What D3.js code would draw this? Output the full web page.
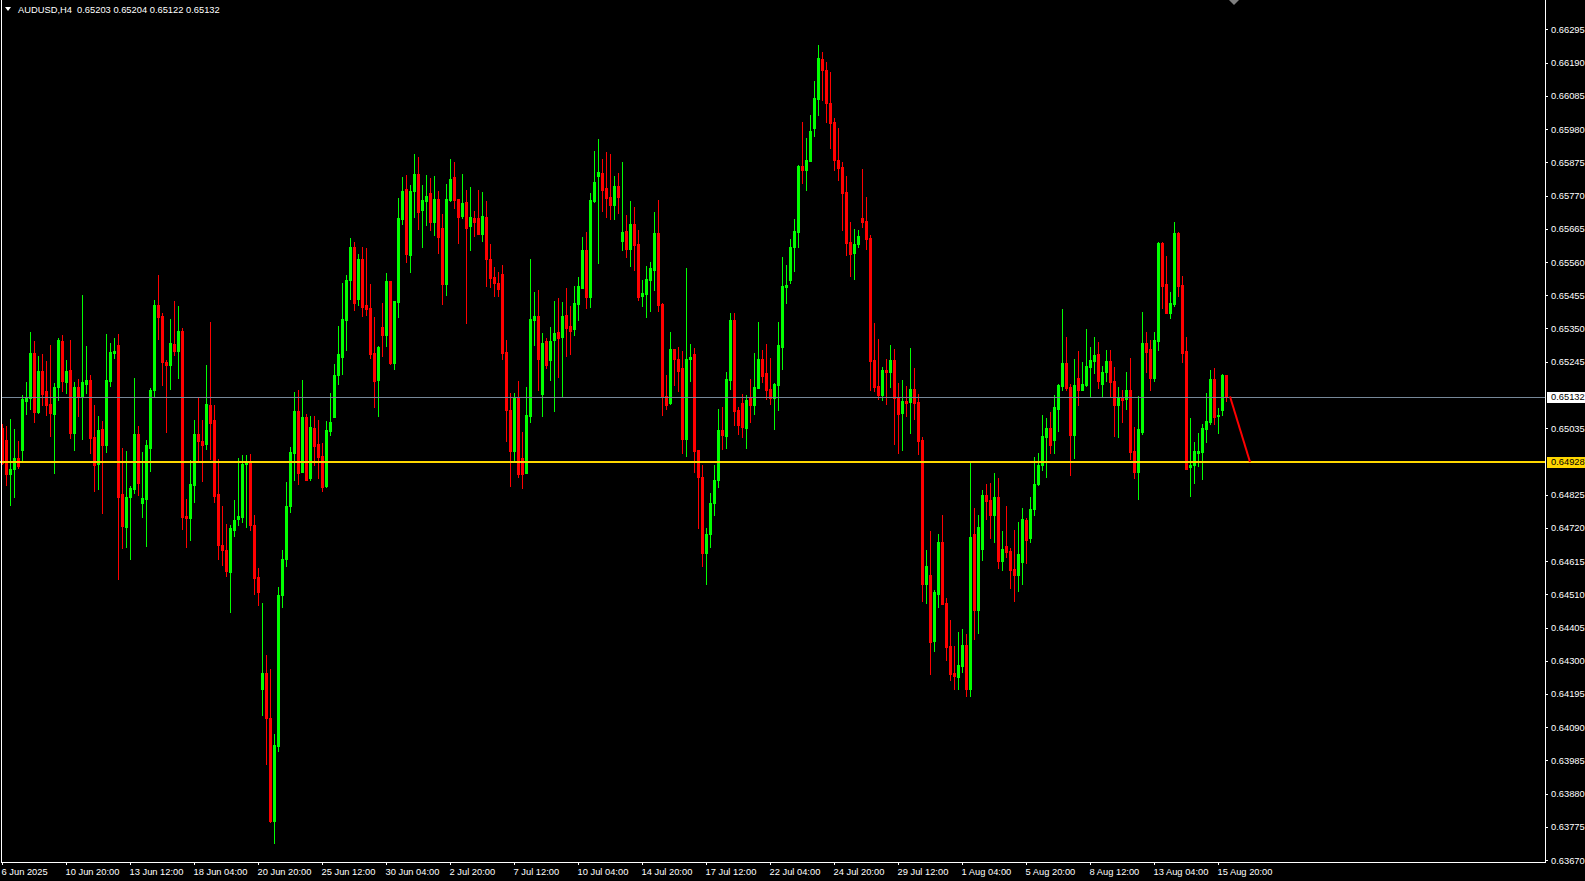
<!DOCTYPE html>
<html><head><meta charset="utf-8">
<script src="https://cdn.jsdelivr.net/npm/d3@7"></script>
<style>
html,body{margin:0;padding:0;background:#000;overflow:hidden}
svg{display:block}
text{font-family:"Liberation Sans",Arial,sans-serif;font-size:9.33px;fill:#fff}
</style></head><body>
<svg id="c" width="1585" height="881"></svg>
<script>
// ---------- data ----------
const symbolTitle = "AUDUSD,H4";
const headerValues = ["0.65203", "0.65204", "0.65122", "0.65132"];

const opens = [
0.65035,0.64997,0.64889,0.64905,0.64940,0.64965,0.65120,0.65130,0.65272,0.65085,
0.65215,0.65152,0.65110,0.65079,0.65164,0.65310,0.65180,0.65218,0.65019,0.65164,
0.65133,0.65174,0.65187,0.65006,0.64921,0.65031,0.64981,0.65183,0.65272,0.65297,
0.64826,0.64724,0.64816,0.64842,0.65016,0.64797,0.64812,0.64972,0.65154,0.65425,
0.65389,0.65243,0.65233,0.65300,0.65279,0.65343,0.64758,0.64751,0.64854,0.65015,
0.64994,0.64986,0.65108,0.65061,0.64826,0.64665,0.64651,0.64580,0.64712,0.64747,
0.64755,0.64922,0.64929,0.64730,0.64565,0.64212,0.64262,0.64120,0.63795,0.64030,
0.64508,0.64620,0.64790,0.64957,0.65090,0.64897,0.65071,0.64878,0.65037,0.64986,
0.64948,0.64853,0.65027,0.65071,0.65204,0.65261,0.65378,0.65502,0.65609,0.65442,
0.65571,0.65423,0.65416,0.65271,0.65188,0.65356,0.65328,0.65499,0.65242,0.65435,
0.65695,0.65790,0.65581,0.65783,0.65837,0.65723,0.65752,0.65777,0.65688,0.65758,
0.65669,0.65489,0.65755,0.65828,0.65758,0.65704,0.65749,0.65673,0.65698,0.65698,
0.65650,0.65701,0.65571,0.65514,0.65495,0.65521,0.65277,0.65093,0.64964,0.65134,
0.64942,0.64894,0.65074,0.65378,0.65388,0.65144,0.65309,0.65249,0.65312,0.65340,
0.65322,0.65391,0.65357,0.65347,0.65426,0.65477,0.65597,0.65448,0.65752,0.65831,
0.65841,0.65793,0.65765,0.65740,0.65800,0.65626,0.65657,0.65600,0.65679,0.65616,
0.65452,0.65458,0.65502,0.65534,0.65651,0.65426,0.65138,0.65116,0.65284,0.65255,
0.65224,0.65002,0.65252,0.65268,0.64967,0.64882,0.64640,0.64700,0.64800,0.64870,
0.65029,0.65011,0.65188,0.65378,0.65093,0.65115,0.65036,0.65131,0.65109,0.65162,
0.65254,0.65210,0.65159,0.65131,0.65172,0.65292,0.65482,0.65504,0.65606,0.65656,
0.65865,0.65852,0.65878,0.65982,0.66074,0.66201,0.66166,0.66064,0.66001,0.65881,
0.65860,0.65781,0.65623,0.65588,0.65617,0.65700,0.65689,0.65636,0.65250,0.65168,
0.65141,0.65218,0.65212,0.65250,0.65133,0.65082,0.65120,0.65117,0.65158,0.65117,
0.64997,0.64543,0.64571,0.64362,0.64511,0.64675,0.64483,0.64347,0.64261,0.64249,
0.64283,0.64350,0.64211,0.64700,0.64461,0.64654,0.64825,0.64809,0.64759,0.64816,
0.64616,0.64664,0.64648,0.64591,0.64572,0.64613,0.64746,0.64689,0.64778,0.64857,
0.64917,0.65006,0.65037,0.64996,0.65094,0.65167,0.65240,0.65164,0.65012,0.65195,
0.65157,0.65170,0.65227,0.65246,0.65268,0.65176,0.65211,0.65246,0.65183,0.65107,
0.65135,0.65126,0.65157,0.64964,0.64895,0.65024,0.65303,0.65284,0.65192,0.65309,
0.65620,0.65490,0.65398,0.65427,0.65651,0.65487,0.65278,0.64911,0.64920,0.64958,
0.64961,0.65031,0.65056,0.65189,0.65072,0.65091,0.65203];

const highs = [
0.65047,0.65041,0.65063,0.65031,0.64993,0.65139,0.65180,0.65338,0.65310,0.65262,
0.65269,0.65247,0.65297,0.65177,0.65320,0.65329,0.65250,0.65313,0.65180,0.65190,
0.65455,0.65294,0.65202,0.65107,0.65073,0.65057,0.65332,0.65304,0.65320,0.65332,
0.64971,0.64962,0.64851,0.65193,0.65041,0.64961,0.64997,0.65161,0.65439,0.65518,
0.65400,0.65250,0.65379,0.65436,0.65422,0.65350,0.64812,0.64933,0.65061,0.65133,
0.65061,0.65236,0.65372,0.65108,0.64936,0.64790,0.64733,0.64730,0.64808,0.64940,
0.64951,0.64951,0.64954,0.64762,0.64594,0.64483,0.64319,0.64273,0.64070,0.64533,
0.64650,0.64865,0.64976,0.65150,0.65157,0.65188,0.65081,0.65074,0.65074,0.65062,
0.64989,0.65059,0.65147,0.65239,0.65359,0.65495,0.65518,0.65635,0.65622,0.65584,
0.65606,0.65603,0.65492,0.65385,0.65296,0.65429,0.65524,0.65499,0.65438,0.65761,
0.65828,0.65834,0.65802,0.65901,0.65891,0.65802,0.65834,0.65825,0.65831,0.65783,
0.65711,0.65806,0.65885,0.65875,0.65758,0.65837,0.65787,0.65796,0.65720,0.65787,
0.65780,0.65752,0.65616,0.65543,0.65530,0.65552,0.65315,0.65147,0.65147,0.65185,
0.65024,0.65166,0.65571,0.65464,0.65473,0.65337,0.65321,0.65356,0.65438,0.65445,
0.65433,0.65477,0.65420,0.65483,0.65512,0.65638,0.65654,0.65778,0.65911,0.65949,
0.65885,0.65907,0.65901,0.65831,0.65841,0.65876,0.65708,0.65752,0.65733,0.65660,
0.65502,0.65547,0.65559,0.65717,0.65755,0.65429,0.65202,0.65338,0.65284,0.65290,
0.65278,0.65540,0.65300,0.65287,0.64967,0.64920,0.64720,0.64830,0.64919,0.65096,
0.65102,0.65213,0.65400,0.65400,0.65102,0.65143,0.65140,0.65191,0.65273,0.65371,
0.65283,0.65302,0.65257,0.65178,0.65371,0.65577,0.65549,0.65634,0.65697,0.65868,
0.66004,0.65951,0.66026,0.66131,0.66245,0.66223,0.66191,0.66159,0.66014,0.65982,
0.65875,0.65832,0.65685,0.65664,0.65661,0.65854,0.65766,0.65645,0.65366,0.65316,
0.65228,0.65253,0.65298,0.65285,0.65177,0.65187,0.65168,0.65288,0.65225,0.65144,
0.65007,0.64650,0.64710,0.64522,0.64700,0.64760,0.64497,0.64428,0.64347,0.64390,
0.64400,0.64385,0.64926,0.64783,0.64760,0.64838,0.64860,0.64863,0.64892,0.64876,
0.64711,0.64790,0.64657,0.64714,0.64740,0.64784,0.64752,0.64816,0.64945,0.64955,
0.65078,0.65066,0.65085,0.65139,0.65173,0.65411,0.65322,0.65176,0.65252,0.65278,
0.65243,0.65347,0.65290,0.65322,0.65306,0.65230,0.65281,0.65281,0.65227,0.65164,
0.65157,0.65214,0.65256,0.65040,0.65138,0.65401,0.65338,0.65313,0.65338,0.65623,
0.65623,0.65578,0.65464,0.65686,0.65654,0.65515,0.65322,0.65066,0.64990,0.65021,
0.65047,0.65145,0.65218,0.65224,0.65100,0.65205,0.65204];

const lows = [
0.64923,0.64854,0.64791,0.64819,0.64910,0.64933,0.65079,0.65095,0.65054,0.65083,
0.65107,0.65076,0.65009,0.64892,0.65123,0.65152,0.65145,0.65003,0.64965,0.65073,
0.65000,0.65145,0.64955,0.64835,0.64842,0.64766,0.64959,0.65168,0.65256,0.64557,
0.64655,0.64661,0.64620,0.64829,0.64823,0.64755,0.64662,0.64901,0.65133,0.65318,
0.65172,0.65022,0.65158,0.65265,0.65193,0.64715,0.64658,0.64683,0.64801,0.64929,
0.64869,0.64969,0.64936,0.64801,0.64623,0.64601,0.64569,0.64455,0.64694,0.64730,
0.64737,0.64722,0.64712,0.64512,0.64476,0.64130,0.63973,0.63791,0.63724,0.64016,
0.64470,0.64600,0.64770,0.64872,0.64859,0.64895,0.64870,0.64872,0.64919,0.64878,
0.64837,0.64850,0.65014,0.65071,0.65173,0.65207,0.65283,0.65442,0.65407,0.65423,
0.65388,0.65391,0.65258,0.65103,0.65074,0.65264,0.65296,0.65239,0.65223,0.65385,
0.65679,0.65559,0.65530,0.65701,0.65663,0.65609,0.65676,0.65660,0.65644,0.65590,
0.65426,0.65457,0.65752,0.65730,0.65619,0.65698,0.65366,0.65597,0.65641,0.65650,
0.65625,0.65483,0.65480,0.65454,0.65454,0.65255,0.64995,0.64853,0.64935,0.64881,
0.64847,0.64894,0.65055,0.65299,0.65154,0.65074,0.65226,0.65188,0.65090,0.65198,
0.65138,0.65262,0.65268,0.65328,0.65376,0.65477,0.65414,0.65417,0.65749,0.65556,
0.65721,0.65702,0.65695,0.65695,0.65714,0.65597,0.65575,0.65547,0.65534,0.65439,
0.65420,0.65385,0.65404,0.65471,0.65404,0.65075,0.65097,0.65110,0.65170,0.65151,
0.64958,0.64948,0.65183,0.64895,0.64720,0.64600,0.64542,0.64660,0.64760,0.64850,
0.64969,0.64972,0.65159,0.65045,0.65017,0.65007,0.64972,0.65055,0.65080,0.65162,
0.65181,0.65128,0.65112,0.65033,0.65093,0.65223,0.65431,0.65495,0.65533,0.65609,
0.65811,0.65789,0.65878,0.65957,0.66026,0.66071,0.66004,0.65919,0.65852,0.65818,
0.65662,0.65583,0.65515,0.65506,0.65607,0.65671,0.65601,0.65156,0.65152,0.65128,
0.65124,0.65111,0.65165,0.64984,0.64956,0.64966,0.65074,0.65019,0.65064,0.64953,
0.64488,0.64483,0.64258,0.64331,0.64471,0.64479,0.64302,0.64239,0.64211,0.64211,
0.64264,0.64187,0.64187,0.64369,0.64388,0.64619,0.64749,0.64689,0.64676,0.64594,
0.64588,0.64629,0.64531,0.64490,0.64521,0.64543,0.64610,0.64676,0.64762,0.64854,
0.64904,0.64882,0.64955,0.64955,0.65025,0.65157,0.65154,0.64888,0.64942,0.65107,
0.65154,0.65167,0.65135,0.65208,0.65161,0.65132,0.65183,0.65132,0.65009,0.65006,
0.65053,0.65094,0.64936,0.64879,0.64812,0.65015,0.65211,0.65157,0.65183,0.65281,
0.65414,0.65398,0.65382,0.65420,0.65452,0.65243,0.64907,0.64822,0.64863,0.64914,
0.64873,0.64990,0.65047,0.65047,0.65021,0.65078,0.65122];

const closes = [
0.64925,0.64889,0.64905,0.64940,0.64915,0.65126,0.65134,0.65272,0.65085,0.65215,
0.65142,0.65107,0.65082,0.65164,0.65313,0.65183,0.65215,0.65019,0.65164,0.65133,
0.65180,0.65187,0.65003,0.64917,0.65028,0.64981,0.65187,0.65275,0.65278,0.64819,
0.64727,0.64819,0.64845,0.65016,0.64861,0.64815,0.64983,0.65154,0.65425,0.65386,
0.65243,0.65233,0.65304,0.65279,0.65343,0.64755,0.64751,0.64858,0.65015,0.64994,
0.64983,0.65111,0.65051,0.64822,0.64665,0.64651,0.64583,0.64719,0.64744,0.64758,
0.64922,0.64926,0.64730,0.64562,0.64516,0.64262,0.64120,0.63795,0.64034,0.64508,
0.64620,0.64790,0.64961,0.65090,0.64894,0.65071,0.64872,0.65040,0.64979,0.64945,
0.64850,0.65030,0.65055,0.65204,0.65268,0.65381,0.65502,0.65609,0.65432,0.65568,
0.65419,0.65413,0.65268,0.65185,0.65293,0.65328,0.65499,0.65242,0.65438,0.65698,
0.65783,0.65584,0.65783,0.65837,0.65717,0.65755,0.65768,0.65688,0.65758,0.65638,
0.65489,0.65758,0.65821,0.65755,0.65701,0.65745,0.65666,0.65701,0.65688,0.65650,
0.65704,0.65568,0.65511,0.65495,0.65476,0.65274,0.65093,0.64964,0.65134,0.64891,
0.64891,0.65077,0.65381,0.65388,0.65255,0.65305,0.65233,0.65309,0.65337,0.65321,
0.65388,0.65353,0.65341,0.65429,0.65483,0.65597,0.65448,0.65755,0.65812,0.65844,
0.65787,0.65762,0.65740,0.65800,0.65765,0.65654,0.65600,0.65679,0.65613,0.65448,
0.65461,0.65505,0.65540,0.65651,0.65423,0.65138,0.65107,0.65284,0.65252,0.65217,
0.65002,0.65255,0.65259,0.64964,0.64882,0.64640,0.64700,0.64800,0.64870,0.65029,
0.65014,0.65191,0.65378,0.65090,0.65045,0.65039,0.65124,0.65109,0.65166,0.65254,
0.65200,0.65156,0.65131,0.65175,0.65299,0.65485,0.65488,0.65609,0.65659,0.65865,
0.65852,0.65881,0.65973,0.66077,0.66204,0.66166,0.66061,0.65998,0.65881,0.65856,
0.65779,0.65621,0.65586,0.65617,0.65642,0.65686,0.65634,0.65248,0.65166,0.65141,
0.65218,0.65212,0.65250,0.65131,0.65080,0.65120,0.65115,0.65158,0.65115,0.64994,
0.64543,0.64599,0.64358,0.64518,0.64675,0.64479,0.64344,0.64258,0.64252,0.64287,
0.64350,0.64211,0.64691,0.64461,0.64722,0.64825,0.64806,0.64759,0.64816,0.64616,
0.64654,0.64645,0.64588,0.64572,0.64638,0.64749,0.64683,0.64781,0.64860,0.64920,
0.65009,0.65034,0.64983,0.65101,0.65170,0.65240,0.65161,0.65012,0.65170,0.65157,
0.65173,0.65230,0.65249,0.65265,0.65183,0.65214,0.65246,0.65180,0.65107,0.65135,
0.65123,0.65157,0.64961,0.64895,0.65031,0.65303,0.65275,0.65195,0.65313,0.65620,
0.65483,0.65398,0.65430,0.65651,0.65483,0.65271,0.64907,0.64920,0.64964,0.64964,
0.65034,0.65059,0.65189,0.65069,0.65075,0.65202,0.65132];

const priceTicks = [0.66295,0.66190,0.66085,0.65980,0.65875,0.65770,0.65665,0.65560,0.65455,
  0.65350,0.65245,0.65035,0.64825,0.64720,0.64615,0.64510,0.64405,0.64300,0.64195,
  0.64090,0.63985,0.63880,0.63775,0.63670];
const timeTickBars = [0,16,32,48,64,80,96,112,128,144,160,176,192,208,224,240,256,272,288,304];
const timeTickLabels = ["6 Jun 2025","10 Jun 20:00","13 Jun 12:00","18 Jun 04:00","20 Jun 20:00",
  "25 Jun 12:00","30 Jun 04:00","2 Jul 20:00","7 Jul 12:00","10 Jul 04:00","14 Jul 20:00",
  "17 Jul 12:00","22 Jul 04:00","24 Jul 20:00","29 Jul 12:00","1 Aug 04:00","5 Aug 20:00",
  "8 Aug 12:00","13 Aug 04:00","15 Aug 20:00"];
const bidPrice = 0.65132;
const levelPrice = 0.64928;
const trendBars = [307, 312];
const trendPrices = [0.65135, 0.64928];
const shiftMarkerBar = 308;

// ---------- layout ----------
const W = 1585, H = 881;
const frameL = 1, frameR = 1545, frameB = 862;
const barStep = 4;
const n = opens.length;
const bull = "#00ff00", bear = "#ff0000";

const x = d3.scaleLinear().domain([0, n - 1]).range([2, 2 + barStep * (n - 1)]);
const y = d3.scaleLinear().domain([0.63664, 0.66388]).range([frameB, 0]);

const svg = d3.select("#c");
svg.append("rect").attr("width", W).attr("height", H).attr("fill", "#000");

const bars = d3.range(n).map(i => ({i, o: opens[i], h: highs[i], l: lows[i], c: closes[i]}));

const g = svg.append("g").attr("shape-rendering", "crispEdges");
const py = v => Math.round(y(v));

// wicks
g.selectAll("rect.wick").data(bars).join("rect").attr("class", "wick")
  .attr("x", d => x(d.i)).attr("width", 1)
  .attr("y", d => py(d.h)).attr("height", d => py(d.l) - py(d.h) + 1)
  .attr("fill", d => d.c >= d.o ? bull : bear);
// bodies
g.selectAll("rect.body").data(bars).join("rect").attr("class", "body")
  .attr("x", d => x(d.i) - 1).attr("width", 3)
  .attr("y", d => py(Math.max(d.o, d.c)))
  .attr("height", d => Math.max(1, py(Math.min(d.o, d.c)) - py(Math.max(d.o, d.c)) + 1))
  .attr("fill", d => d.c >= d.o ? bull : bear);

// bid line & level line
g.append("rect").attr("x", frameL).attr("width", frameR - frameL).attr("y", Math.floor(y(bidPrice)))
  .attr("height", 1).attr("fill", "#778899");
g.append("rect").attr("x", 0).attr("width", frameR).attr("y", Math.round(y(levelPrice)) - 1)
  .attr("height", 2).attr("fill", "#ffd700");

// trend line
svg.append("line")
  .attr("x1", x(trendBars[0])).attr("y1", y(trendPrices[0]))
  .attr("x2", x(trendBars[1])).attr("y2", y(trendPrices[1]))
  .attr("stroke", "#ff0000").attr("stroke-width", 2);

// frame
const fr = svg.append("g").attr("shape-rendering", "crispEdges");
fr.append("rect").attr("x", frameL).attr("y", 0).attr("width", 1).attr("height", frameB + 1).attr("fill", "#fff");
fr.append("rect").attr("x", frameR).attr("y", 0).attr("width", 1).attr("height", frameB + 1).attr("fill", "#fff");
fr.append("rect").attr("x", frameL).attr("y", frameB).attr("width", frameR - frameL + 1).attr("height", 1).attr("fill", "#fff");

// price axis
const yAxis = d3.axisRight(y).tickValues(priceTicks).tickFormat(d3.format(".5f"))
  .tickSize(3).tickPadding(3).tickSizeOuter(0);
const ya = svg.append("g").attr("transform", `translate(${frameR},0)`).call(yAxis);
ya.select(".domain").remove();
ya.selectAll("line").attr("stroke", "#fff").attr("shape-rendering", "crispEdges");
ya.selectAll("text").attr("fill", "#fff").attr("font-family", null).attr("font-size", null);

// time axis
const xAxis = d3.axisBottom(x).tickValues(timeTickBars).tickFormat((d, i) => timeTickLabels[i])
  .tickSize(3).tickPadding(3).tickSizeOuter(0);
const xa = svg.append("g").attr("transform", `translate(0,${frameB})`).call(xAxis);
xa.select(".domain").remove();
xa.selectAll("line").attr("stroke", "#fff").attr("shape-rendering", "crispEdges");
xa.selectAll("text").attr("fill", "#fff").attr("text-anchor", "start").attr("x", -1)
  .attr("font-family", null).attr("font-size", null);

// price labels (bid, level)
function priceTag(v, bg) {
  const yc = Math.round(y(v));
  svg.append("rect").attr("x", frameR + 2).attr("y", yc - 5).attr("width", W - frameR - 2).attr("height", 11)
    .attr("fill", bg).attr("shape-rendering", "crispEdges");
  svg.append("text").attr("x", frameR + 6).attr("y", yc).attr("dy", "0.35em")
    .style("fill", "#000").text(d3.format(".5f")(v));
}
priceTag(bidPrice, "#ffffff");
priceTag(levelPrice, "#ffd700");

// chart shift marker
const sx = x(shiftMarkerBar);
svg.append("path").attr("d", `M${sx - 5},0 L${sx + 5},0 L${sx},5 Z`).attr("fill", "#808080");

// header
svg.append("path").attr("d", "M5,7 L11,7 L8,11 Z").attr("fill", "#fff");
svg.append("text").attr("x", 18).attr("y", 13).style("white-space", "pre")
  .text(symbolTitle + "  " + headerValues.join(" "));
</script>
</body></html>
